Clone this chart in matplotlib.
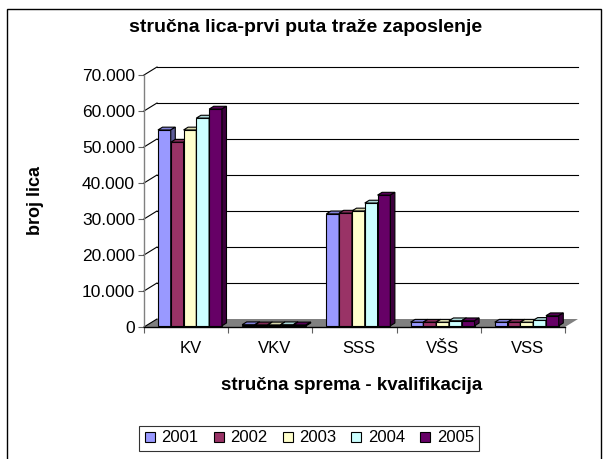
import matplotlib.pyplot as plt
import numpy as np
from matplotlib.patches import Polygon, Rectangle
from matplotlib.lines import Line2D
from matplotlib.ticker import FuncFormatter

plt.rcParams['font.family'] = ['Liberation Sans', 'DejaVu Sans']

categories = ['KV', 'VKV', 'SSS', 'VŠS', 'VSS']
years = ['2001', '2002', '2003', '2004', '2005']
v2001 = [54400, 300, 31100, 1000, 1000]
v2002 = [51000, 250, 31300, 1000, 1000]
v2003 = [54400, 250, 31900, 1000, 1000]
v2004 = [57700, 300, 34100, 1400, 1500]
v2005 = [60200, 250, 36300, 1400, 2800]
series = [v2001, v2002, v2003, v2004, v2005]
colors = ['#9999FF', '#993366', '#FFFFCC', '#CCFFFF', '#660066']
yticks = np.arange(0, 70001, 10000)

W, H = 607, 459


def fx(px):
    return px / W


def fy(py):
    return 1 - py / H


def shade(c, k):
    r, g, b = plt.matplotlib.colors.to_rgb(c)
    return (r * k, g * k, b * k)


fig = plt.figure(figsize=(W / 100, H / 100), dpi=100)
ax = fig.add_axes([fx(144), fy(327), (565 - 144) / W, (327 - 75) / H])
ax.set_xlim(0, 5)
ax.set_ylim(0, 70000)
ax.patch.set_visible(False)

# depth of the 3d box in data units
dx = 13 / 421 * 5
dy = 8 / 252 * 70000
f0, f1 = 0.15, 0.5

# floor
ax.add_patch(Polygon([(0, 0), (5, 0), (5 + dx, dy), (dx, dy)], closed=True,
                     fc='#808080', ec='none', clip_on=False, zorder=1))

# walls gridlines
for v in yticks:
    ax.add_line(Line2D([0, dx], [v, v + dy], color='black', lw=0.8,
                       clip_on=False, zorder=2))
    if v > 0:
        ax.add_line(Line2D([dx, 5 + dx], [v + dy, v + dy], color='black',
                           lw=0.8, clip_on=False, zorder=2))

# bars
g0 = 0.1425
bw = 0.152
ddx = (f1 - f0) * dx
ddy = (f1 - f0) * dy
z = 3
for j in range(len(categories)):
    for i, vals in enumerate(series):
        v = vals[j]
        x0 = j + g0 + i * bw + f0 * dx
        x1 = x0 + bw
        y0 = f0 * dy
        y1 = y0 + v
        ax.bar(x0, v, width=bw, bottom=y0, align='edge', color=colors[i],
               edgecolor='black', lw=0.8, clip_on=False, zorder=z)
        ax.add_patch(Polygon([(x0, y1), (x1, y1), (x1 + ddx, y1 + ddy),
                              (x0 + ddx, y1 + ddy)], closed=True,
                             fc=shade(colors[i], 0.85), ec='black', lw=0.8,
                             clip_on=False, zorder=z))
        ax.add_patch(Polygon([(x1, y0), (x1 + ddx, y0 + ddy),
                              (x1 + ddx, y1 + ddy), (x1, y1)], closed=True,
                             fc=shade(colors[i], 0.6), ec='black', lw=0.8,
                             clip_on=False, zorder=z))
        z += 0.01

for s in ['top', 'right']:
    ax.spines[s].set_visible(False)
ax.spines['left'].set_color('#808080')
ax.spines['left'].set_linewidth(1)
ax.spines['bottom'].set_color('black')
ax.spines['bottom'].set_linewidth(1)
ax.spines['bottom'].set_zorder(2.5)

ax.set_yticks(yticks)
ax.yaxis.set_major_formatter(FuncFormatter(lambda v, p: f'{int(v):,}'.replace(',', '.')))
ax.tick_params(axis='y', direction='out', length=4.5, width=0.8, color='#606060',
               labelsize=12.5, pad=2)
ax.set_xticks(np.arange(6))
ax.set_xticklabels([])
ax.set_xticks(np.arange(5) + 0.5 + 0.05, minor=True)
ax.set_xticklabels(categories, minor=True)
ax.tick_params(axis='x', which='major', direction='out', length=4.5, width=0.8,
               color='#606060')
ax.tick_params(axis='x', which='minor', length=0, pad=10, labelsize=12)

fig.text(fx(306), fy(27), 'stručna lica-prvi puta traže zaposlenje',
         ha='center', va='center', fontsize=14, fontweight='bold')
fig.text(fx(36), fy(200), 'broj lica', ha='center', va='center',
         rotation=90, fontsize=13, fontweight='bold')
fig.text(fx(352), fy(385), 'stručna sprema - kvalifikacija',
         ha='center', va='center', fontsize=13.5, fontweight='bold')

handles = [Line2D([], [], marker='s', ls='', markersize=7, mfc=c, mec='black',
                  mew=0.8) for c in colors]
leg = fig.legend(handles, years, loc='center', bbox_to_anchor=(fx(309), fy(438)),
                 ncol=5, frameon=True, fancybox=False, edgecolor='black',
                 handlelength=0.7, handletextpad=0.35, columnspacing=0.85,
                 borderpad=0.3, fontsize=12, borderaxespad=0)
leg.get_frame().set_linewidth(0.8)

fig.add_artist(Rectangle((fx(7), fy(470)), fx(601) - fx(7), fy(9) - fy(470),
                         transform=fig.transFigure, fill=False, ec='black',
                         lw=1, clip_on=False))

fig.savefig('out.png', dpi=100)
